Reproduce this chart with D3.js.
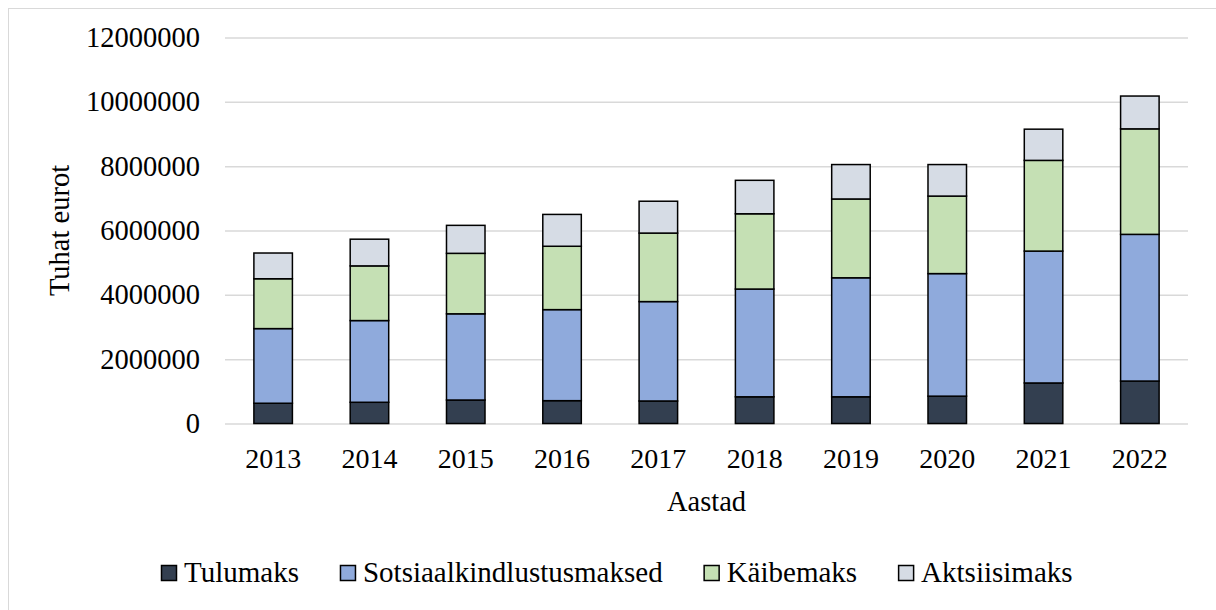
<!DOCTYPE html>
<html>
<head>
<meta charset="utf-8">
<script src="https://cdn.jsdelivr.net/npm/d3@7"></script>
<style>
  body { margin: 0; background: #fff; }
  svg text { font-family: 'Liberation Serif', 'Times New Roman', serif; fill: #000; }
</style>
</head>
<body>
<div id="chart"></div>
<script>
// Data (thousand euros)
var years = ['2013', '2014', '2015', '2016', '2017', '2018', '2019', '2020', '2021', '2022']
var seriesNames = ['Tulumaks', 'Sotsiaalkindlustusmaksed', 'Käibemaks', 'Aktsiisimaks']
var tulumaks = [630000, 660000, 730000, 710000, 700000, 830000, 830000, 850000, 1260000, 1320000]
var sotsiaal = [2320000, 2540000, 2680000, 2830000, 3090000, 3350000, 3700000, 3810000, 4100000, 4560000]
var kaibemaks = [1550000, 1700000, 1880000, 1970000, 2130000, 2340000, 2450000, 2410000, 2820000, 3280000]
var aktsiis = [800000, 830000, 870000, 990000, 990000, 1040000, 1070000, 980000, 970000, 1020000]
var yTicks = [0, 2000000, 4000000, 6000000, 8000000, 10000000, 12000000]
var colors = ['#333f50', '#8faadc', '#c5e0b4', '#d6dce5']

// Layout
var W = 1216, H = 610
var plot = { left: 225, right: 1188, top: 37.5, bottom: 423.5 }

var svg = d3.select('#chart').append('svg')
  .attr('width', W)
  .attr('height', H)

// chart border (right and bottom edges fall outside the picture)
svg.append('rect')
  .attr('x', 8.5).attr('y', 8.5)
  .attr('width', 1230).attr('height', 620)
  .attr('fill', 'none')
  .attr('stroke', '#d9d9d9')
  .attr('stroke-width', 1)

// build rows for stacking
var rows = years.map(function (y, i) {
  return { year: y, s0: tulumaks[i], s1: sotsiaal[i], s2: kaibemaks[i], s3: aktsiis[i] }
})
var stack = d3.stack().keys(['s0', 's1', 's2', 's3'])(rows)

var x = d3.scaleBand()
  .domain(years)
  .range([plot.left, plot.right])
  .paddingInner(0.6)
  .paddingOuter(0.3)

var y = d3.scaleLinear()
  .domain([0, 12000000])
  .range([plot.bottom, plot.top])

// Y axis with gridlines
var yAxis = svg.append('g')
  .attr('transform', 'translate(' + plot.left + ',0)')
  .call(d3.axisLeft(y)
    .tickValues(yTicks)
    .tickFormat(d3.format('d'))
    .tickSizeInner(-(plot.right - plot.left))
    .tickSizeOuter(0)
    .tickPadding(25))
yAxis.select('.domain').remove()
yAxis.selectAll('.tick line').attr('stroke', '#d9d9d9').attr('stroke-width', 1.5)
yAxis.selectAll('.tick text')
  .style('font-size', '28.5px')
  .style('font-family', "'Liberation Serif', serif")

// X axis labels
var xAxis = svg.append('g')
  .attr('transform', 'translate(0,' + plot.bottom + ')')
  .call(d3.axisBottom(x).tickSize(0).tickPadding(25))
xAxis.select('.domain').remove()
xAxis.selectAll('.tick text')
  .style('font-size', '28px')
  .style('font-family', "'Liberation Serif', serif")

// Bars
svg.append('g').selectAll('g')
  .data(stack)
  .enter().append('g')
  .attr('fill', function (d, i) { return colors[i] })
  .selectAll('rect')
  .data(function (d) { return d })
  .enter().append('rect')
  .attr('x', function (d) { return x(d.data.year) })
  .attr('y', function (d) { return y(d[1]) })
  .attr('width', x.bandwidth())
  .attr('height', function (d) { return y(d[0]) - y(d[1]) })
  .attr('stroke', '#000')
  .attr('stroke-width', 1.5)

// Axis titles
svg.append('text')
  .attr('transform', 'translate(69,' + ((plot.top + plot.bottom) / 2) + ') rotate(-90)')
  .attr('text-anchor', 'middle')
  .style('font-size', '28.5px')
  .text('Tuhat eurot')

svg.append('text')
  .attr('x', (plot.left + plot.right) / 2)
  .attr('y', 511)
  .attr('text-anchor', 'middle')
  .style('font-size', '28.5px')
  .text('Aastad')

// Legend
var legend = svg.append('g').attr('transform', 'translate(161,0)')
var lx = 0
seriesNames.forEach(function (name, i) {
  var item = legend.append('g').attr('transform', 'translate(' + lx + ',0)')
  item.append('rect')
    .attr('x', 0.5).attr('y', 565.5)
    .attr('width', 15).attr('height', 15)
    .attr('fill', colors[i])
    .attr('stroke', '#000')
    .attr('stroke-width', 1.5)
  var t = item.append('text')
    .attr('x', 23)
    .attr('y', 582)
    .style('font-size', '29px')
    .text(name)
  lx += 23 + t.node().getComputedTextLength() + 41
})
</script>
</body>
</html>
